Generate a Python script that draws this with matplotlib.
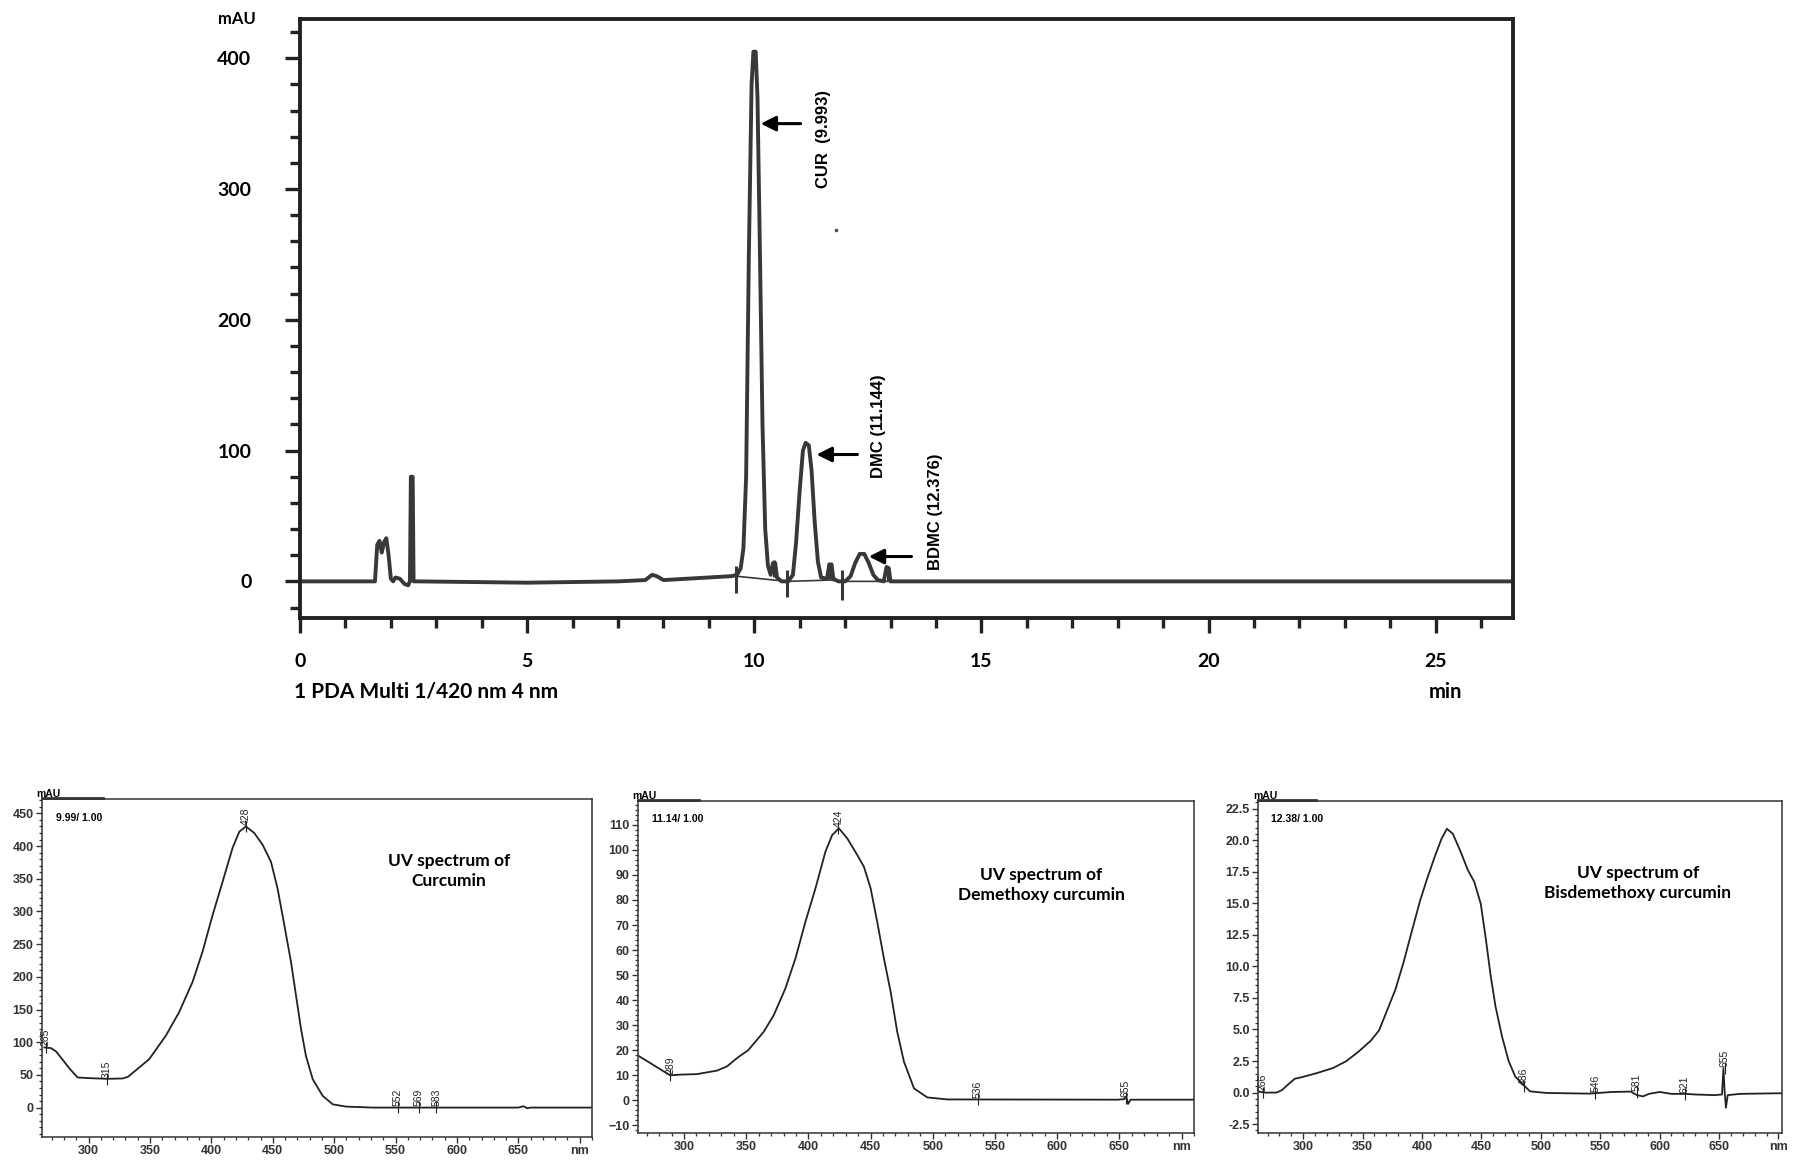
import matplotlib
matplotlib.use("Agg")
import matplotlib.pyplot as plt
from matplotlib.ticker import MultipleLocator, FixedLocator, FormatStrFormatter

# ---------------- data: chromatogram ----------------
chrom_time = [0.0, 1.65, 1.70, 1.75, 1.80, 1.85, 1.90, 1.95, 2.00, 2.05, 2.10, 2.20, 2.30, 2.38,
              2.42, 2.44, 2.48, 2.50, 2.60, 5.0, 7.0, 7.6, 7.75, 7.85, 8.0, 9.0, 9.5, 9.62,
              9.70, 9.76, 9.82, 9.88, 9.94, 9.98, 10.03, 10.07, 10.12, 10.18, 10.24, 10.30,
              10.36, 10.41, 10.46, 10.50, 10.60, 10.75, 10.85, 10.92, 11.00, 11.07, 11.13,
              11.20, 11.26, 11.33, 11.40, 11.47, 11.60, 11.65, 11.70, 11.74, 11.85, 12.00,
              12.12, 12.22, 12.32, 12.42, 12.52, 12.62, 12.72, 12.85, 12.91, 12.96, 13.00, 26.7]
chrom_mau = [0, 0, 28, 31, 22, 30, 33, 20, 2, 0, 3, 2, -2, -3,
             0, 80, 80, 0, 0, -1, 0, 1, 5, 4, 1, 3, 4, 5,
             10, 25, 80, 250, 380, 405, 405, 370, 260, 120, 40, 12,
             5, 14, 14, 3, 0, 0, 5, 30, 70, 100, 106,
             104, 85, 45, 15, 3, 2, 13, 13, 2, 0, 0,
             4, 14, 21, 21, 14, 5, 1, 0, 11, 10, 0, 0]

# integration marks (time, low, high)
mark_time = [9.59, 10.44, 10.72, 11.67, 11.93, 12.94]
mark_low = [-9, 3, -12, 2, -14, 0]
mark_high = [12, 16, 9, 14, 9, 12]
integ_base_time = [9.59, 10.44, 10.72, 11.67, 11.93, 12.94]
integ_base_mau = [4, 1, 0, 1, 0, 0]

peak_labels = ["CUR  (9.993)", "DMC (11.144)", "BDMC (12.376)"]
peak_label_x = [11.52, 12.73, 13.98]
peak_label_y = [338, 119, 53]
arrow_head_x = [10.14, 11.37, 12.52]
arrow_tail_x = [11.02, 12.27, 13.46]
arrow_y = [350, 97, 19]

chrom_xticks = [0, 5, 10, 15, 20, 25]
chrom_yticks = [0, 100, 200, 300, 400]

# ---------------- data: UV spectra ----------------
cur_nm = [263.9, 269.3, 273.4, 278.9, 284.3, 291, 300.6, 315, 327.5, 332, 338.4, 349.3,
          362.9, 373.7, 384.6, 392.7, 400.9, 409.1, 417.2, 422.7, 428.1, 434.9, 441.7,
          448.5, 453.9, 459.4, 464.8, 468.9, 473, 477, 482.5, 490.6, 498.8, 509.6, 531.4,
          650, 654, 655.5, 657, 660, 710]
cur_mau = [92, 91, 86, 73, 60, 46, 45, 44, 44.5, 47, 57, 74,
           110, 146, 192, 238, 294, 345.5, 397, 422, 430, 420, 402,
           376, 335, 279, 223, 171.5, 120, 79, 43.5, 18, 5, 1.5, 0,
           0, 2, 1, -1, 0, 0]
cur_lab = ["265", "315", "428", "552", "569", "583"]
cur_lab_x = [265, 315, 428, 552, 569, 583]
cur_lab_y = [92, 44, 430, 0, 0, 0]

dmc_nm = [262.7, 272.9, 283.6, 289, 297, 310.4, 326.5, 334.6, 342.6, 351.7, 364.1, 372.2,
          381.5, 389.6, 397.6, 405.7, 413.7, 419.1, 424.5, 431.2, 439.2, 444.6, 450,
          455.3, 460.7, 466.1, 471.4, 476.8, 484.9, 495.6, 511.7, 648.5, 654, 655.5, 657,
          659, 709.7]
dmc_mau = [18, 14.9, 11.6, 10, 10.3, 10.5, 11.9, 13.6, 16.9, 20.1, 27.4, 34.1,
           44.7, 56.7, 71.3, 84.7, 99.3, 105.9, 108.6, 104.6, 98, 93.3, 84.7,
           71.3, 56.7, 43.4, 27.4, 15.5, 4.8, 1.2, 0.4, 0.3, 0.5, 1.6, -1.4,
           0.3, 0.3]
dmc_lab = ["289", "424", "536", "655"]
dmc_lab_x = [289, 424, 536, 655]
dmc_lab_y = [10, 108.6, 0.4, 1.0]

bdmc_nm = [262.2, 268.3, 277.6, 282.2, 286.8, 293, 297.6, 311.4, 325.2, 336.3, 347.3, 357,
           363.9, 370.8, 377.7, 384.6, 391.5, 398.4, 404, 410.8, 416.4, 421, 426, 432.9,
           438.5, 444, 449.5, 453.7, 457.8, 461.9, 467.5, 473, 478.5, 485.4, 491, 504.8,
           520, 540.7, 560, 575.7, 581, 586, 591, 600, 610, 621.8, 630, 646.3, 652.5, 653.7,
           654.8, 655.8, 657.3, 667.8, 703]
bdmc_mau = [0.08, 0, 0, 0.2, 0.6, 1.1, 1.19, 1.54, 1.95, 2.49, 3.3, 4.12,
            4.93, 6.55, 8.18, 10.35, 12.8, 15.2, 16.85, 18.7, 20.1, 20.9, 20.5, 19.0,
            17.65, 16.7, 14.95, 12.2, 9.27, 6.82, 4.39, 2.49, 1.27, 0.6, 0.1, -0.03,
            -0.05, -0.08, 0.05, 0.08, -0.2, -0.3, -0.1, 0.05, -0.1, -0.1, -0.15, -0.2,
            -0.15, 1.9, 0.0, -1.2, -0.2, -0.1, -0.05]
bdmc_lab = ["266", "486", "546", "581", "621", "655"]
bdmc_lab_x = [266, 486, 546, 581, 621, 655]
bdmc_lab_y = [0, 0.5, -0.05, 0.05, -0.1, 1.9]

spec_titles = ["UV spectrum of\nCurcumin", "UV spectrum of\nDemethoxy curcumin",
               "UV spectrum of\nBisdemethoxy curcumin"]
spec_tags = ["9.99/ 1.00", "11.14/ 1.00", "12.38/ 1.00"]
spec_xticks = [300, 350, 400, 450, 500, 550, 600, 650, 700]
spec_xticklabels = ["300", "350", "400", "450", "500", "550", "600", "650", "nm"]

# ---------------- figure ----------------
W, H = 1795, 1162
fig = plt.figure(figsize=(W / 100, H / 100), dpi=100)
BOLD_FONT = ["Lato", "DejaVu Sans"]
SMALL_FONT = ["Liberation Sans", "DejaVu Sans"]


def fbox(l, t, r, b):
    return [l / W, 1 - b / H, (r - l) / W, (b - t) / H]


# ---- top chromatogram ----
ax = fig.add_axes(fbox(300, 19, 1513, 618))
ax.plot(chrom_time, chrom_mau, color="#383838", lw=2.8, solid_joinstyle="round")
ax.plot(integ_base_time, integ_base_mau, color="#383838", lw=1.2)
ax.vlines(mark_time, mark_low, mark_high, color="#383838", lw=2.2)
ax.plot([11.8], [269], marker="s", ms=2, color="#555555")
ax.set_xlim(0, 26.7)
ax.set_ylim(-28, 430)
for s in ax.spines.values():
    s.set_linewidth(2.8)
    s.set_color("#222222")
ax.xaxis.set_major_locator(FixedLocator(chrom_xticks))
ax.xaxis.set_minor_locator(MultipleLocator(1))
ax.yaxis.set_major_locator(FixedLocator(chrom_yticks))
ax.yaxis.set_minor_locator(MultipleLocator(20))
ax.tick_params(axis="both", which="major", direction="out", length=11, width=2.4,
               color="#222222", labelsize=14)
ax.tick_params(axis="both", which="minor", direction="out", length=7, width=2.4,
               color="#222222")
ax.tick_params(axis="x", which="major", pad=14)
ax.tick_params(axis="y", which="major", pad=24)
for lab in ax.get_xticklabels() + ax.get_yticklabels():
    lab.set_fontweight("bold")
    lab.set_family(BOLD_FONT)
for txt, x, y in zip(peak_labels, peak_label_x, peak_label_y):
    ax.text(x, y, txt, rotation=90, ha="center", va="center", fontsize=12,
            fontweight="bold", family=SMALL_FONT)
for hx, tx, y in zip(arrow_head_x, arrow_tail_x, arrow_y):
    ax.annotate("", xy=(hx, y), xytext=(tx, y),
                arrowprops=dict(arrowstyle="-|>,head_length=0.9,head_width=0.45",
                                color="black", lw=2.2, shrinkA=0, shrinkB=0))
ax.text(-0.036, 1.0, "mAU", transform=ax.transAxes, ha="right", va="center",
        fontsize=12, fontweight="bold", family=BOLD_FONT)
fig.text(294 / W, 1 - 692 / H, "1 PDA Multi 1/420 nm 4 nm", ha="left", va="center",
         fontsize=15, fontweight="bold", family=BOLD_FONT)
fig.text(1445 / W, 1 - 692 / H, "min", ha="center", va="center",
         fontsize=14.5, fontweight="bold", family=BOLD_FONT)

# ---- UV spectra ----
panels = [
    (fbox(42, 799, 592, 1137), cur_nm, cur_mau, cur_lab, cur_lab_x, cur_lab_y,
     (262, 710), (-45, 472), 50, 10, 9, (0.74, 0.787)),
    (fbox(638, 801, 1194, 1133), dmc_nm, dmc_mau, dmc_lab, dmc_lab_x, dmc_lab_y,
     (263, 710), (-13, 119.5), 10, 2, 2.4, (0.725, 0.747)),
    (fbox(1258, 801, 1782, 1133), bdmc_nm, bdmc_mau, bdmc_lab, bdmc_lab_x, bdmc_lab_y,
     (262, 703), (-3.2, 23.1), 2.5, 0.5, 0.45, (0.725, 0.753)),
]
for i, (box, xs, ys, labs, lx, ly, xl, yl, ymaj, ymin, dtick, tpos) in enumerate(panels):
    a = fig.add_axes(box)
    a.plot(xs, ys, color="#222222", lw=1.3, solid_joinstyle="round")
    a.set_xlim(*xl)
    a.set_ylim(*yl)
    for s in a.spines.values():
        s.set_linewidth(1.1)
        s.set_color("#333333")
    a.xaxis.set_major_locator(FixedLocator(spec_xticks))
    a.set_xticklabels(spec_xticklabels)
    a.xaxis.set_minor_locator(MultipleLocator(10))
    a.yaxis.set_major_locator(MultipleLocator(ymaj))
    a.yaxis.set_minor_locator(MultipleLocator(ymin))
    a.tick_params(axis="both", which="major", direction="out", length=4, width=1.0,
                  labelsize=9, pad=2, color="#333333")
    a.tick_params(axis="both", which="minor", direction="out", length=2.5, width=0.9,
                  color="#333333")
    if i == 2:
        a.yaxis.set_major_formatter(FormatStrFormatter("%.1f"))
    for lab in a.get_xticklabels() + a.get_yticklabels():
        lab.set_family(SMALL_FONT)
        lab.set_fontweight("bold")
        lab.set_color("#333333")
    # peak labels
    for t, x, y in zip(labs, lx, ly):
        a.vlines([x], y - dtick, y + dtick, color="#222222", lw=0.8)
        a.text(x, y + dtick * 0.2, t, rotation=90, ha="center", va="bottom",
               fontsize=7.5, family=SMALL_FONT, color="#222222")
    a.text(0.025, 0.945, spec_tags[i], transform=a.transAxes, ha="left", va="center",
           fontsize=7.5, fontweight="bold", family=SMALL_FONT)
    a.text(tpos[0], tpos[1], spec_titles[i], transform=a.transAxes, ha="center",
           va="center", fontsize=12.5, fontweight="bold", family=BOLD_FONT,
           linespacing=1.3)
    a.text(-0.01, 1.0, "mAU", transform=a.transAxes, ha="left", va="bottom",
           fontsize=7.5, fontweight="bold", family=SMALL_FONT)
    a.plot([0, 0.11], [1.004, 1.004], transform=a.transAxes, color="#333333", lw=2.0,
           clip_on=False)

fig.savefig("out.png", dpi=100)
